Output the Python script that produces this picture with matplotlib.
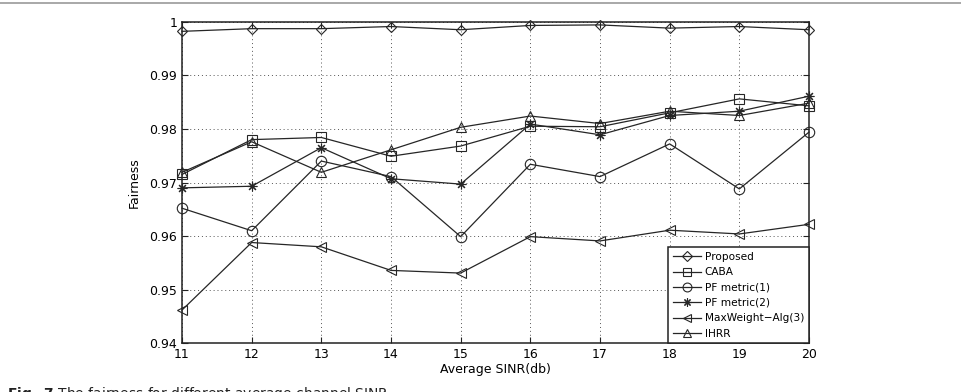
import matplotlib
matplotlib.use("Agg")
import matplotlib.pyplot as plt
from matplotlib.lines import Line2D

sinr = [11, 12, 13, 14, 15, 16, 17, 18, 19, 20]
proposed = [0.9982, 0.9987, 0.9987, 0.9991, 0.9985, 0.9993, 0.9994, 0.9988, 0.9991, 0.9985]
caba = [0.9715, 0.9780, 0.9784, 0.9749, 0.9768, 0.9805, 0.9804, 0.9830, 0.9856, 0.9843]
pf1 = [0.9652, 0.9610, 0.9740, 0.9711, 0.9599, 0.9734, 0.9711, 0.9772, 0.9688, 0.9794]
pf2 = [0.9690, 0.9693, 0.9765, 0.9707, 0.9697, 0.9809, 0.9789, 0.9825, 0.9833, 0.9861]
maxweight = [0.9462, 0.9588, 0.9580, 0.9536, 0.9531, 0.9599, 0.9591, 0.9611, 0.9604, 0.9622]
ihrr = [0.9719, 0.9776, 0.9719, 0.9761, 0.9803, 0.9824, 0.9810, 0.9833, 0.9825, 0.9848]

series = [
    ("Proposed", proposed, "D", 5.5),
    ("CABA", caba, "s", 6.5),
    ("PF metric(1)", pf1, "o", 7.5),
    ("PF metric(2)", pf2, (8, 2, 0), 7),
    ("MaxWeight\u2212Alg(3)", maxweight, "<", 7.5),
    ("IHRR", ihrr, "^", 7.5),
]

fig = plt.figure(figsize=(9.62, 3.92), dpi=100)
ax = fig.add_axes([182/962, 1-343.3/392, (809-182)/962, (343.3-21.7)/392])

col = "#262626"
for name, vals, mk, ms in series:
    ax.plot(sinr, vals, color=col, lw=0.9, marker=mk, ms=ms, mfc="none",
            mec=col, mew=0.8, label=name, clip_on=False, zorder=3)

ax.set_xlim(11, 20)
ax.set_ylim(0.94, 1.0)
ax.set_xticks(sinr)
ax.set_yticks([0.94, 0.95, 0.96, 0.97, 0.98, 0.99, 1.0])
ax.set_yticklabels(["0.94", "0.95", "0.96", "0.97", "0.98", "0.99", "1"])
ax.grid(True, linestyle=(0, (1, 3)), color="#555555", lw=0.7)
ax.tick_params(direction="in", top=True, right=True, labelsize=9, length=4, color="#222222")
for s in ax.spines.values():
    s.set_linewidth(1.1)
    s.set_color("#222222")
ax.set_xlabel("Average SINR(db)", fontsize=9, labelpad=1)
ax.set_ylabel("Fairness", fontsize=9, labelpad=6)

leg = ax.legend(loc="lower right", fontsize=7.6, frameon=True, fancybox=False,
                edgecolor="#222222", framealpha=1, borderaxespad=0.0,
                handlelength=2.6, labelspacing=0.5, borderpad=0.45, handletextpad=0.4,
                markerscale=0.85)
leg.get_frame().set_linewidth(1.1)
leg.set_zorder(5)

# top border line
fig.add_artist(Line2D([0, 1], [1-3/392, 1-3/392], color="#999999", lw=1.2))

fig.text(7/962, 1-385/392, r"$\bf{Fig.\ 7}$ The fairness for different average channel SINR",
         fontsize=10, va="top", ha="left", color="#222222")

fig.savefig("out.png", dpi=100)
